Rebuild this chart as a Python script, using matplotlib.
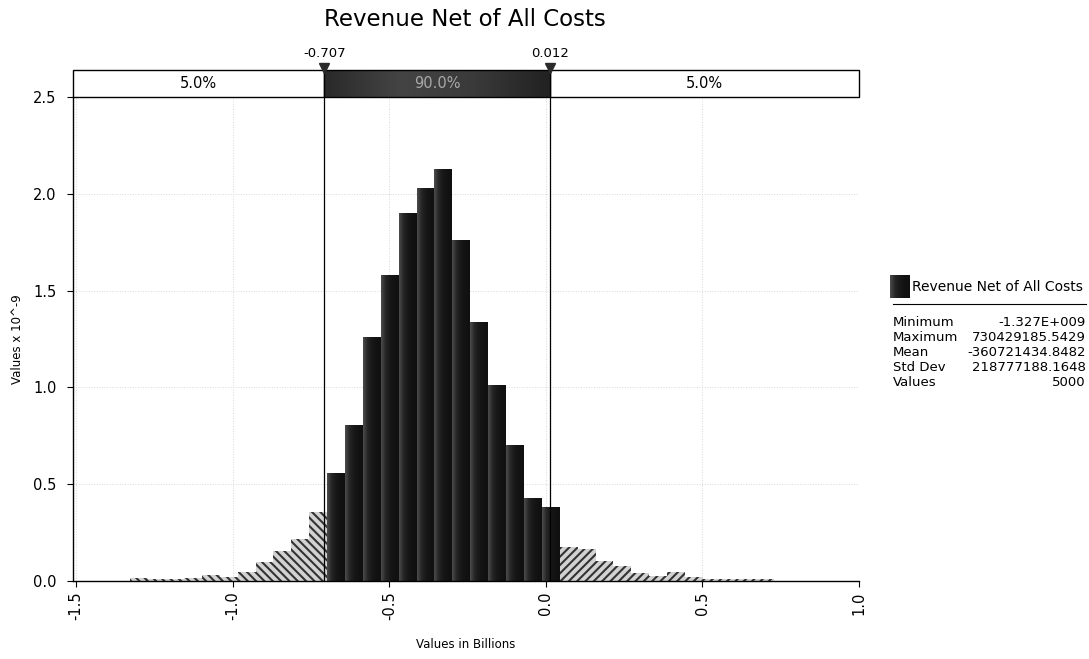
import numpy as np
import matplotlib
matplotlib.use("Agg")
import matplotlib.pyplot as plt
from matplotlib.patches import Rectangle
from matplotlib.lines import Line2D
from matplotlib.colors import LinearSegmentedColormap

# ---------------- data ----------------
title = "Revenue Net of All Costs"
x_min, x_max = -1.327, 0.730          # billions (sample minimum / maximum)
n_bins = 36
density = [0.017, 0.012, 0.010, 0.015, 0.030, 0.022, 0.047, 0.100, 0.155, 0.215, 0.355,
           0.56, 0.806, 1.26, 1.58, 1.90, 2.03, 2.13, 1.76, 1.34, 1.01, 0.70, 0.43, 0.38,
           0.175, 0.165, 0.105, 0.075, 0.040, 0.025, 0.045, 0.020, 0.008, 0.008, 0.010, 0.012]
lower, upper = -0.707, 0.012
band_labels = ["5.0%", "90.0%", "5.0%"]
x_ticks = [-1.5, -1.0, -0.5, 0.0, 0.5, 1.0]
y_ticks = [0.0, 0.5, 1.0, 1.5, 2.0, 2.5]
stat_names = ["Minimum", "Maximum", "Mean", "Std Dev", "Values"]
stat_values = ["-1.327E+009", "730429185.5429", "-360721434.8482", "218777188.1648", "5000"]
x_label = "Values in Billions"
y_label = "Values x 10^-9"

# ---------------- figure ----------------
plt.rcParams['font.family'] = ['DejaVu Sans']
plt.rcParams['hatch.linewidth'] = 1.5
W, H = 1089, 659
fig = plt.figure(figsize=(W / 100, H / 100), dpi=100)

def fx(px):
    return px / W

def fy(py):
    return (H - py) / H

ax_l, ax_r, ax_t, ax_b = 73, 859, 97, 581
ax = fig.add_axes([fx(ax_l), fy(ax_b), fx(ax_r - ax_l), (ax_b - ax_t) / H])
xlim = (-1.51, 1.0)

edges = np.linspace(x_min, x_max, n_bins + 1)
lefts = edges[:-1]
widths = np.diff(edges)
dens = np.array(density)

left_mask = lefts < lower
right_mask = lefts >= upper
mid_mask = ~(left_mask | right_mask)

ax.bar(lefts[left_mask], dens[left_mask], widths[left_mask], align='edge',
       facecolor='#d2d2d2', edgecolor='#333333', linewidth=0, hatch='\\\\\\\\', zorder=2)
ax.bar(lefts[right_mask], dens[right_mask], widths[right_mask], align='edge',
       facecolor='#d2d2d2', edgecolor='#333333', linewidth=0, hatch='////', zorder=2)
dark = ax.bar(lefts[mid_mask], dens[mid_mask], widths[mid_mask], align='edge',
              color='#141414', linewidth=0, zorder=2)

cm_bar = LinearSegmentedColormap.from_list('bar', ['#4c4c4c', '#262626', '#181818', '#121212', '#101010'])
grad = np.linspace(0, 1, 64).reshape(1, -1)
for p in dark.patches:
    x0, w, h = p.get_x(), p.get_width(), p.get_height()
    im = ax.imshow(grad, extent=[x0, x0 + w, 0, h], cmap=cm_bar, aspect='auto',
                   interpolation='bilinear', zorder=2.1)
    im.set_clip_path(p)

ax.axvline(lower, color='black', lw=0.9, zorder=3)
ax.axvline(upper, color='black', lw=0.9, zorder=3)

ax.set_xlim(*xlim)
ax.set_ylim(0, 2.5)
ax.set_xticks(x_ticks)
ax.set_xticklabels([f"{v:.1f}" for v in x_ticks], rotation=90)
ax.set_yticks(y_ticks)
ax.set_yticklabels([f"{v:.1f}" for v in y_ticks])
ax.tick_params(axis='both', length=4, width=0.8, labelsize=10.5, direction='out', colors='black')
ax.tick_params(axis='y', pad=8)
ax.grid(True, linestyle=':', color='#d8d8d8', lw=0.7, zorder=0)
for s in ['top', 'right']:
    ax.spines[s].set_visible(False)
for s in ['left', 'bottom']:
    ax.spines[s].set_linewidth(1.0)
ax.set_xlabel(x_label, fontsize=8.5)
ax.set_ylabel(y_label, fontsize=8.5)
ax.xaxis.set_label_coords(0.5, (ax_b - 638) / (ax_b - ax_t))
ax.yaxis.set_label_coords((24 - ax_l) / (ax_r - ax_l), 0.5)

# ---------------- percentile band ----------------
band_t = 70
bax = fig.add_axes([fx(ax_l), fy(ax_t), fx(ax_r - ax_l), (ax_t - band_t) / H], sharex=ax)
bax.set_ylim(0, 1)
bax.axis('off')
bax.add_patch(Rectangle((xlim[0], 0), lower - xlim[0], 1, facecolor='white',
                        edgecolor='black', lw=1.0, clip_on=False))
bax.add_patch(Rectangle((upper, 0), xlim[1] - upper, 1, facecolor='white',
                        edgecolor='black', lw=1.0, clip_on=False))
cm_band = LinearSegmentedColormap.from_list('band', ['#2a2a2a', '#444444', '#3a3a3a', '#222222'])
bax.imshow(grad, extent=[lower, upper, 0, 1], cmap=cm_band, aspect='auto',
           interpolation='bilinear', zorder=1)
bax.add_patch(Rectangle((lower, 0), upper - lower, 1, facecolor='none',
                        edgecolor='black', lw=1.0, clip_on=False, zorder=2))
bax.set_xlim(*xlim)
bax.set_ylim(0, 1)
centers = [(xlim[0] + lower) / 2, (lower + upper) / 2, (upper + xlim[1]) / 2]
for c, lab, col in zip(centers, band_labels, ['black', '#a8a8a8', 'black']):
    bax.text(c, 0.5, lab, ha='center', va='center', fontsize=10.5, color=col, zorder=3)
bax.plot([lower, upper], [1.09, 1.09], linestyle='none', marker='v', markersize=7,
         color='#2a2a2a', clip_on=False, zorder=4)
for v in (lower, upper):
    bax.text(v, 1.6, f"{v:.3f}", ha='center', va='center', fontsize=9.5, clip_on=False)

# ---------------- title ----------------
fig.text(fx(465), fy(20), title, ha='center', va='center', fontsize=16.5)

# ---------------- legend / statistics ----------------
lax = fig.add_axes([fx(890), fy(298), fx(20), 23 / H])
lax.imshow(grad, cmap=cm_bar, aspect='auto', interpolation='bilinear')
lax.axis('off')
fig.text(fx(912), fy(287), title, ha='left', va='center', fontsize=10)
fig.add_artist(Line2D([fx(893), fx(1086)], [fy(304), fy(304)], color='black', lw=0.8))
for i, (n, v) in enumerate(zip(stat_names, stat_values)):
    yy = fy(322 + i * 15.2)
    fig.text(fx(893), yy, n, ha='left', va='center', fontsize=9.5)
    fig.text(fx(1086), yy, v, ha='right', va='center', fontsize=9.5)

fig.savefig("out.png", dpi=100)
